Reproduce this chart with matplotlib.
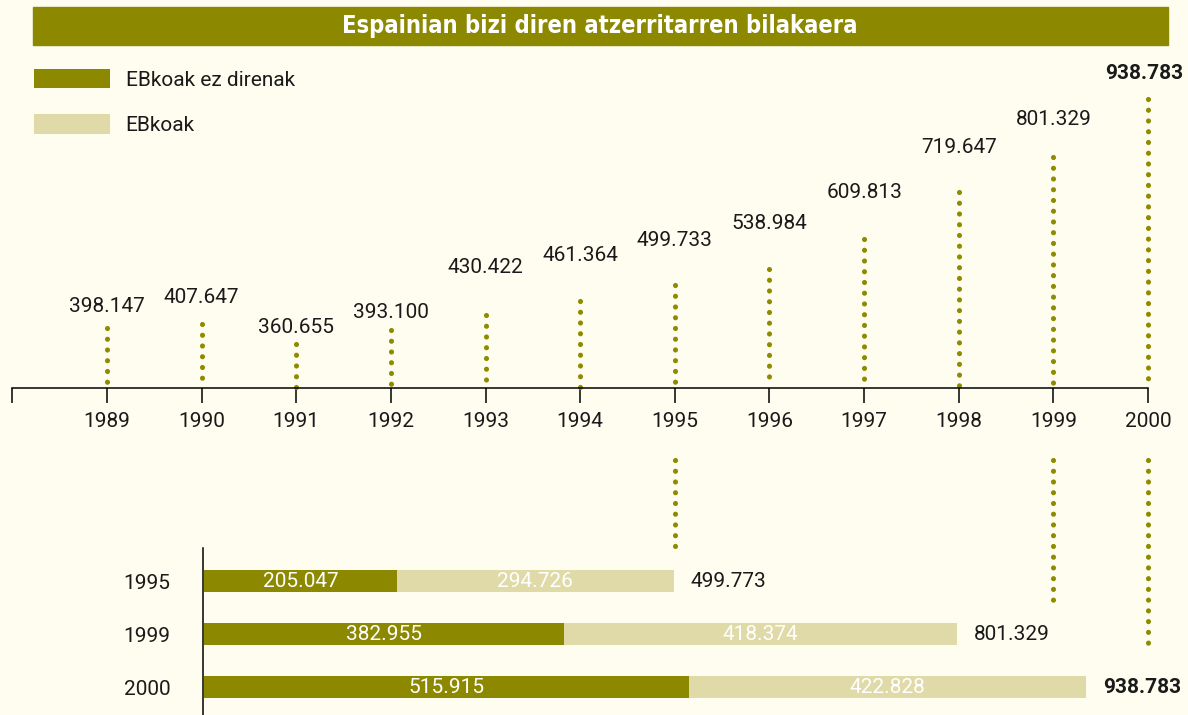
import matplotlib
matplotlib.use("Agg")
import matplotlib.pyplot as plt
import matplotlib.transforms as mtransforms
from matplotlib import font_manager
from matplotlib.font_manager import FontProperties
from matplotlib.patches import Rectangle, Patch

# data
years = [1989, 1990, 1991, 1992, 1993, 1994, 1995, 1996, 1997, 1998, 1999, 2000]
totals = [398147, 407647, 360655, 393100, 430422, 461364,
          499733, 538984, 609813, 719647, 801329, 938783]
bar_years = [1995, 1999, 2000]
non_eu = [205047, 382955, 515915]
eu = [294726, 418374, 422828]
bar_totals = [499773, 801329, 938783]

title = "Espainian bizi diren atzerritarren bilakaera"
legend_labels = ["EBkoak ez direnak", "EBkoak"]

# style
BG = "#FFFDF0"
DARK = "#8C8800"
LIGHT = "#E0DAA8"
DOT = "#8F8B00"
TXT = "#1a1a1a"
FS = 15

names = {f.name for f in font_manager.fontManager.ttflist}
body_font = "Roboto" if "Roboto" in names else "DejaVu Sans"
plt.rcParams["font.family"] = [body_font, "DejaVu Sans"]

# condensed bold face for the title, if one is installed
narrow = [f for f in font_manager.fontManager.ttflist
          if ("Narrow" in f.name or "Condensed" in f.name
              or str(f.stretch) in ("condensed", "semi-condensed"))
          and str(f.weight) in ("bold", "700") and f.style == "normal"]
if narrow:
    title_prop = FontProperties(fname=narrow[0].fname, size=17)
else:
    title_prop = FontProperties(family=body_font, weight="bold", size=17)

# label offsets above dotted lines (pixels)
label_dy = [22, 27, 17, 18, 47, 46, 45, 45, 46, 45, 38, 26]

dot_style = dict(color=DOT, lw=3.7, linestyle=(0, (0.01, 2.08)),
                 dash_capstyle="round", clip_on=False)


def fmt(v):
    return f"{v:,}".replace(",", ".")


W, H = 1188, 715
fig = plt.figure(figsize=(W / 100, H / 100), dpi=100, facecolor=BG)

# title bar
fig.patches.append(Rectangle((33 / W, 1 - 45 / H), 1135 / W, 38 / H,
                             transform=fig.transFigure, color=DARK, zorder=0))
fig.text(600 / W, 1 - 26 / H, title, color="white", fontproperties=title_prop,
         ha="center", va="center")

# top chart: dotted stems
px_year = (1148 - 107) / 11
left_px = 107 - px_year
ax = fig.add_axes([left_px / W, 1 - 387.5 / H, (1148 - left_px) / W, (387.5 - 60) / H])
ax.set_facecolor("none")
ax.set_xlim(1988, 2000)
ax.set_ylim(258400, 1031200)
for s in ["top", "left", "right"]:
    ax.spines[s].set_visible(False)
ax.spines["bottom"].set_linewidth(1.1)
ax.set_yticks([])
ax.set_xticks([1988] + years)
ax.set_xticklabels([""] + [str(y) for y in years])
ax.tick_params(axis="x", direction="out", length=10.8, width=1.1,
               pad=6.5, labelsize=FS, labelcolor=TXT)

for i, (yr, v) in enumerate(zip(years, totals)):
    # dots start at the value and run down to the axis
    ax.plot([yr, yr], [v, 260000], **dot_style)
    bold = yr == years[-1]
    ax.annotate(fmt(v), (yr, v), xytext=(-3 if bold else 0, label_dy[i] * 0.72),
                textcoords="offset points", ha="center", va="center",
                fontsize=FS, color=TXT, fontweight="bold" if bold else "normal",
                annotation_clip=False)

# legend
handles = [Patch(facecolor=DARK, edgecolor="none"),
           Patch(facecolor=LIGHT, edgecolor="none")]
fig.legend(handles, legend_labels, loc="upper left",
           bbox_to_anchor=(34 / W, 1 - 69 / H), frameon=False,
           fontsize=FS, handlelength=3.65, handleheight=1.06,
           handletextpad=0.75, labelspacing=1.17, borderpad=0,
           borderaxespad=0, labelcolor=TXT)

# bottom chart: stacked bars
bx = fig.add_axes([204 / W, 0, (W - 204) / W, (715 - 548) / H])
bx.set_facecolor("none")
bx.set_xlim(0, 1046800)
bx.set_ylim(2.528, -0.623)
rows = list(range(len(bar_years)))
bx.barh(rows, non_eu, height=0.415, color=DARK)
bx.barh(rows, eu, left=non_eu, height=0.415, color=LIGHT)
for s in ["top", "bottom", "right"]:
    bx.spines[s].set_visible(False)
bx.spines["left"].set_linewidth(1.1)
bx.spines["left"].set_position(("outward", 1))
bx.set_xticks([])
bx.set_yticks(rows)
bx.set_yticklabels([str(y) for y in bar_years])
bx.tick_params(axis="y", length=0, pad=23, labelsize=FS, labelcolor=TXT)

for r, a, b, t in zip(rows, non_eu, eu, bar_totals):
    bx.text(a / 2, r, fmt(a), ha="center", va="center", color="white", fontsize=FS)
    bx.text(a + b / 2, r, fmt(b), ha="center", va="center", color="white", fontsize=FS)
    bold = r == rows[-1]
    bx.annotate(fmt(t), (a + b, r), xytext=(12, 0), textcoords="offset points",
                ha="left", va="center", fontsize=FS, color=TXT,
                fontweight="bold" if bold else "normal", annotation_clip=False)

# dotted connectors from the year axis down to the bar totals
tr = mtransforms.blended_transform_factory(ax.transData, bx.transData)
for r, yr in zip(rows, bar_years):
    bx.plot([yr, yr], [-2.283, r - 0.65], transform=tr, **dot_style)

fig.savefig("out.png", dpi=100, facecolor=BG)
